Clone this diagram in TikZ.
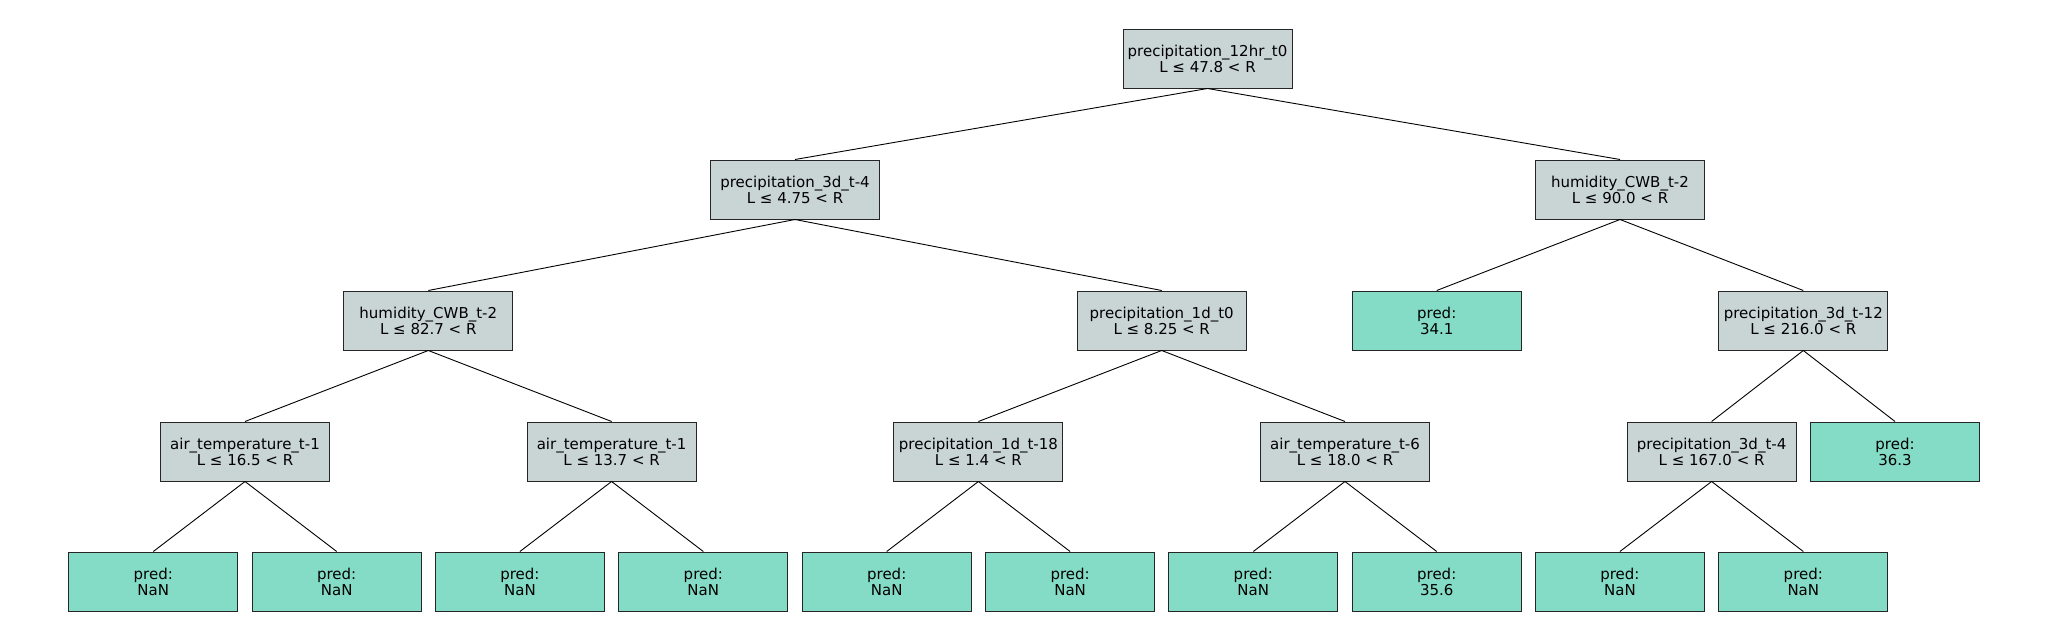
\documentclass[tikz,border=0pt]{standalone}
\usepackage{fontspec}
\setmainfont{DejaVu Sans}
\usepackage{tikz}
\usetikzlibrary{positioning}
\definecolor{splitgray}{RGB}{201,212,213}
\definecolor{leafgreen}{RGB}{132,220,198}

\begin{document}
\begin{tikzpicture}[x=1pt,y=-1pt,on grid,line width=0.9pt]
\tikzstyle{box}=[draw=black!85,line width=1pt,minimum width=169pt,minimum height=59pt,inner sep=0pt,align=center,font=\fontsize{15}{16}\selectfont]
\tikzstyle{split}=[box,fill=splitgray]
\tikzstyle{leaf}=[box,fill=leafgreen]

\useasboundingbox (0,0) rectangle (2048,640);

\node[split] (P12)                                           at (1207.5,58.5) {precipitation\_12hr\_t0\\L ≤ 47.8 < R};
\node[split] (P3d4)    [below left=131pt and 412.5pt of P12]    {precipitation\_3d\_t-4\\L ≤ 4.75 < R};
\node[split] (H90)     [below right=131pt and 412.5pt of P12]   {humidity\_CWB\_t-2\\L ≤ 90.0 < R};
\node[split] (H82)     [below left=131pt and 366.7pt of P3d4]   {humidity\_CWB\_t-2\\L ≤ 82.7 < R};
\node[split] (P1d)     [below right=131pt and 366.7pt of P3d4]  {precipitation\_1d\_t0\\L ≤ 8.25 < R};
\node[leaf]  (pred341) [below left=131pt and 183.3pt of H90]    {pred:\\34.1};
\node[split] (P3d12)   [below right=131pt and 183.3pt of H90]   {precipitation\_3d\_t-12\\L ≤ 216.0 < R};
\node[split] (T165)    [below left=131pt and 183.3pt of H82]    {air\_temperature\_t-1\\L ≤ 16.5 < R};
\node[split] (T137)    [below right=131pt and 183.3pt of H82]   {air\_temperature\_t-1\\L ≤ 13.7 < R};
\node[split] (P1d18)   [below left=131pt and 183.3pt of P1d]    {precipitation\_1d\_t-18\\L ≤ 1.4 < R};
\node[split] (T6)      [below right=131pt and 183.3pt of P1d]   {air\_temperature\_t-6\\L ≤ 18.0 < R};
\node[split] (P3d167)  [below left=131pt and 91.7pt of P3d12]   {precipitation\_3d\_t-4\\L ≤ 167.0 < R};
\node[leaf]  (pred363) [below right=131pt and 91.7pt of P3d12]  {pred:\\36.3};
\node[leaf]  (q1)      [below left=130pt and 91.7pt of T165]    {pred:\\NaN};
\node[leaf]  (q2)      [below right=130pt and 91.7pt of T165]   {pred:\\NaN};
\node[leaf]  (q3)      [below left=130pt and 91.7pt of T137]    {pred:\\NaN};
\node[leaf]  (q4)      [below right=130pt and 91.7pt of T137]   {pred:\\NaN};
\node[leaf]  (q5)      [below left=130pt and 91.7pt of P1d18]   {pred:\\NaN};
\node[leaf]  (q6)      [below right=130pt and 91.7pt of P1d18]  {pred:\\NaN};
\node[leaf]  (q7)      [below left=130pt and 91.7pt of T6]      {pred:\\NaN};
\node[leaf]  (q8)      [below right=130pt and 91.7pt of T6]     {pred:\\35.6};
\node[leaf]  (q9)      [below left=130pt and 91.7pt of P3d167]  {pred:\\NaN};
\node[leaf]  (q10)     [below right=130pt and 91.7pt of P3d167] {pred:\\NaN};

\path (P12.south) edge (P3d4.north)
                  edge (H90.north)
(P3d4.south)   edge (H82.north)
               edge (P1d.north)
(H90.south)    edge (pred341.north)
               edge (P3d12.north)
(H82.south)    edge (T165.north)
               edge (T137.north)
(P1d.south)    edge (P1d18.north)
               edge (T6.north)
(P3d12.south)  edge (P3d167.north)
               edge (pred363.north)
(T165.south)   edge (q1.north)
               edge (q2.north)
(T137.south)   edge (q3.north)
               edge (q4.north)
(P1d18.south)  edge (q5.north)
               edge (q6.north)
(T6.south)     edge (q7.north)
               edge (q8.north)
(P3d167.south) edge (q9.north)
               edge (q10.north);
\end{tikzpicture}
\end{document}
